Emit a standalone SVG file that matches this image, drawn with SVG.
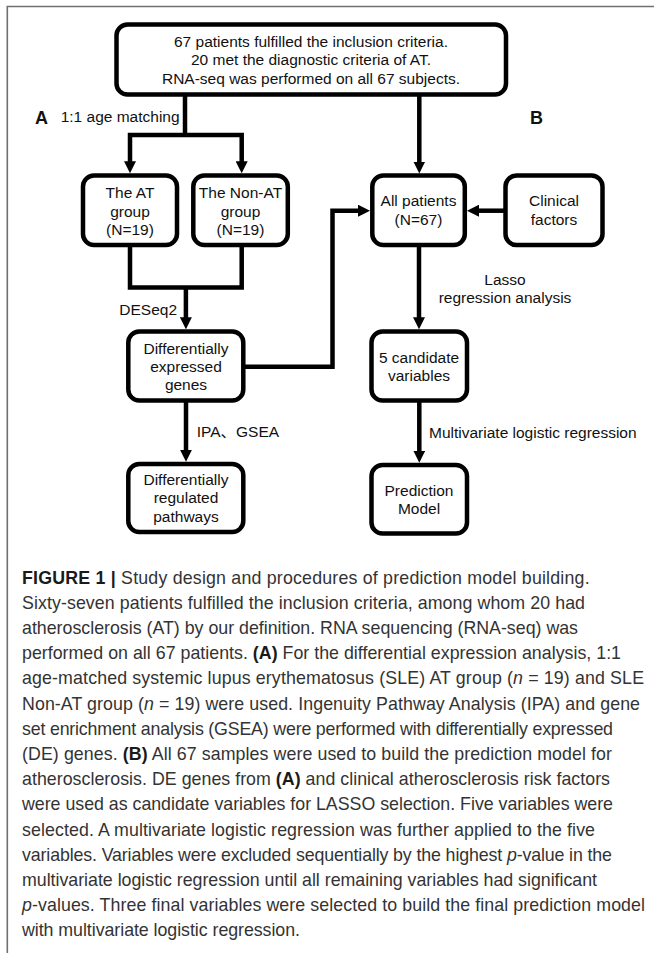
<svg xmlns="http://www.w3.org/2000/svg" width="654" height="953" viewBox="0 0 654 953">
<defs>
<style>
.frame{fill:none;stroke:#707070;stroke-width:1.6}
.box{fill:#fff;stroke:#000;stroke-width:4.5}
.con{fill:none;stroke:#000;stroke-width:4.5;stroke-linejoin:miter;stroke-linecap:butt}
.arr{marker-end:url(#ah)}
.t{font-family:"Liberation Sans",Arial,"Noto Sans CJK SC",sans-serif;font-size:15.5px;fill:#111}
.c{text-anchor:middle}
.lab{font-family:"Liberation Sans",Arial,sans-serif;font-size:18px;font-weight:bold;fill:#111}
.cap{font-family:"Liberation Sans",Arial,sans-serif;font-size:17.8px;fill:#333}
.b{font-weight:bold;fill:#1a1a1a}
.i{font-style:italic}
</style>
<marker id="ah" viewBox="0 0 12 12" markerWidth="12" markerHeight="12" markerUnits="userSpaceOnUse" refX="4" refY="6" orient="auto">
<path d="M0,0 L12,6 L0,12 z" fill="#000"/>
</marker>
</defs>
<rect width="654" height="953" fill="#fff"/>
<path class="frame" d="M7.3,953 V6.5 H654"/>

<g id="connectors">
<path class="con" d="M185,94.5 V135"/>
<path class="con arr" d="M185,135 H130 V165.3"/>
<path class="con arr" d="M185,135 H241.7 V165.3"/>
<path class="con arr" d="M419.3,94.5 V165.5"/>
<path class="con" d="M130,245 V287.5 H241.7 V245"/>
<path class="con arr" d="M185.9,287.5 V321.3"/>
<path class="con arr" d="M243.5,366.7 H332.5 V210.7 H362"/>
<path class="con arr" d="M505.5,210.7 H475"/>
<path class="con arr" d="M419,245 V321.3"/>
<path class="con arr" d="M186,400.5 V453.7"/>
<path class="con arr" d="M419.3,400.5 V454.7"/>
</g>

<g id="n_top">
<rect class="box" x="116.5" y="24.5" width="389.5" height="70" rx="11"/>
<text class="t c" x="311" y="46.7">67 patients fulfilled the inclusion criteria.</text>
<text class="t c" x="311" y="65">20 met the diagnostic criteria of AT.</text>
<text class="t c" x="311" y="83.5">RNA-seq was performed on all 67 subjects.</text>
</g>

<g id="labels">
<text class="lab" x="35" y="123.5">A</text>
<text class="t" x="60.7" y="121.5">1:1 age matching</text>
<text class="lab" x="530" y="123.5">B</text>
<text class="t" x="119.3" y="315">DESeq2</text>
<text class="t c" x="505" y="285">Lasso</text>
<text class="t c" x="505" y="302.5">regression analysis</text>
<text class="t" x="196.7" y="436.7">IPA、GSEA</text>
<text class="t" x="429" y="438.3">Multivariate logistic regression</text>
</g>

<g id="n_at">
<rect class="box" x="83" y="175.5" width="94" height="69.5" rx="11"/>
<text class="t c" x="130" y="198.3">The AT</text>
<text class="t c" x="130" y="216.5">group</text>
<text class="t c" x="130" y="235">(N=19)</text>
</g>

<g id="n_nonat">
<rect class="box" x="193.3" y="175.5" width="94.5" height="69.5" rx="11"/>
<text class="t c" x="240.5" y="198.3">The Non-AT</text>
<text class="t c" x="240.5" y="216.5">group</text>
<text class="t c" x="240.5" y="235">(N=19)</text>
</g>

<g id="n_all">
<rect class="box" x="372.3" y="175.5" width="92.5" height="69.5" rx="11"/>
<text class="t c" x="418.5" y="206">All patients</text>
<text class="t c" x="418.5" y="225">(N=67)</text>
</g>

<g id="n_clinical">
<rect class="box" x="505.5" y="175.5" width="97" height="69.5" rx="11"/>
<text class="t c" x="554" y="206">Clinical</text>
<text class="t c" x="554" y="225">factors</text>
</g>

<g id="n_deg">
<rect class="box" x="128.3" y="331.5" width="115" height="69" rx="11"/>
<text class="t c" x="186" y="354">Differentially</text>
<text class="t c" x="186" y="372">expressed</text>
<text class="t c" x="186" y="390">genes</text>
</g>

<g id="n_cand">
<rect class="box" x="371.5" y="331.5" width="95.5" height="69" rx="11"/>
<text class="t c" x="419" y="362.7">5 candidate</text>
<text class="t c" x="419" y="381">variables</text>
</g>

<g id="n_drp">
<rect class="box" x="128.3" y="464" width="115" height="68" rx="11"/>
<text class="t c" x="186" y="485">Differentially</text>
<text class="t c" x="186" y="503.3">regulated</text>
<text class="t c" x="186" y="521.7">pathways</text>
</g>

<g id="n_model">
<rect class="box" x="371.5" y="465" width="95.5" height="68.5" rx="11"/>
<text class="t c" x="419" y="496">Prediction</text>
<text class="t c" x="419" y="514">Model</text>
</g>

<g id="caption">
<text class="cap" x="22" y="583.5" textLength="567.6"><tspan class="b">FIGURE 1 |</tspan> Study design and procedures of prediction model building.</text>
<text class="cap" x="22" y="608.7" textLength="563">Sixty-seven patients fulfilled the inclusion criteria, among whom 20 had</text>
<text class="cap" x="22" y="633.9" textLength="556">atherosclerosis (AT) by our definition. RNA sequencing (RNA-seq) was</text>
<text class="cap" x="22" y="659.1" textLength="599">performed on all 67 patients. <tspan class="b">(A)</tspan> For the differential expression analysis, 1:1</text>
<text class="cap" x="22" y="684.3" textLength="622">age-matched systemic lupus erythematosus (SLE) AT group (<tspan class="i">n</tspan> = 19) and SLE</text>
<text class="cap" x="22" y="709.5" textLength="618">Non-AT group (<tspan class="i">n</tspan> = 19) were used. Ingenuity Pathway Analysis (IPA) and gene</text>
<text class="cap" x="22" y="734.7" textLength="591">set enrichment analysis (GSEA) were performed with differentially expressed</text>
<text class="cap" x="22" y="759.9" textLength="590">(DE) genes. <tspan class="b">(B)</tspan> All 67 samples were used to build the prediction model for</text>
<text class="cap" x="22" y="785.1" textLength="588">atherosclerosis. DE genes from <tspan class="b">(A)</tspan> and clinical atherosclerosis risk factors</text>
<text class="cap" x="22" y="810.3" textLength="591">were used as candidate variables for LASSO selection. Five variables were</text>
<text class="cap" x="22" y="835.5" textLength="573">selected. A multivariate logistic regression was further applied to the five</text>
<text class="cap" x="22" y="860.7" textLength="590">variables. Variables were excluded sequentially by the highest <tspan class="i">p</tspan>-value in the</text>
<text class="cap" x="22" y="885.9" textLength="575">multivariate logistic regression until all remaining variables had significant</text>
<text class="cap" x="22" y="911.1" textLength="623"><tspan class="i">p</tspan>-values. Three final variables were selected to build the final prediction model</text>
<text class="cap" x="22" y="936.3" textLength="278">with multivariate logistic regression.</text>
</g>
</svg>
